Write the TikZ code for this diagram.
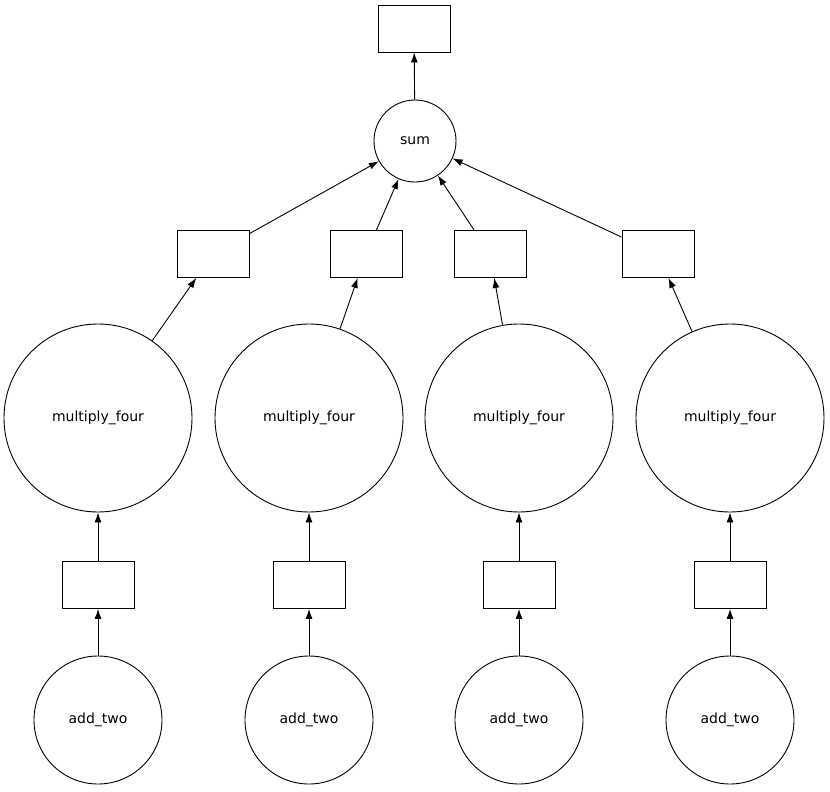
\documentclass[tikz,border=0pt]{standalone}
\usepackage{fontspec}
\setmainfont{DejaVu Sans}
\usetikzlibrary{arrows.meta}
\begin{document}
\begin{tikzpicture}[x=1pt,y=-1pt,line width=0.9pt,
  box/.style={draw,minimum width=72pt,minimum height=47pt,inner sep=0pt},
  circ/.style={draw,circle,inner sep=0pt,font=\fontsize{14}{16}\selectfont},
  arr/.style={-{Latex[length=10pt,width=7pt]}}]
\useasboundingbox (0,0) rectangle (830,792);
\node[box] (top) at (414,28.5) {};
\node[circ,minimum size=82pt] (sum) at (415,141) {sum};
\foreach \i/\rx/\cx in {1/213/98,2/366/309,3/490/519,4/658/730}{
  \node[box] (r\i) at (\rx,254) {};
  \node[circ,minimum size=188pt] (m\i) at (\cx,418) {multiply\_four};
  \node[box] (b\i) at (\cx,585) {};
  \node[circ,minimum size=128pt] (a\i) at (\cx,720) {add\_two};
  \draw[arr] (a\i) -- (b\i);
  \draw[arr] (b\i) -- (m\i);
  \draw[arr] (m\i) -- (r\i);
  \draw[arr] (r\i) -- (sum);
}
\draw[arr] (sum) -- (top);
\end{tikzpicture}
\end{document}
